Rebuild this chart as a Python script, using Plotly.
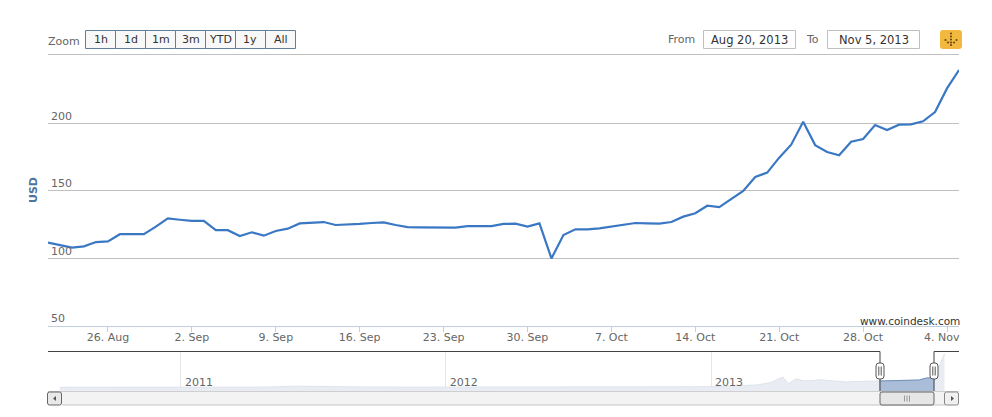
import pandas as pd
import plotly.graph_objects as go

W, H = 992, 417

# ---- data ----
START_DATE = "2013-08-21"
usd_values = [
    111.7, 110, 108, 109, 112.2, 112.7, 118, 118, 118, 123.6, 129.7,
    128.7, 127.8, 127.9, 121, 121, 116.7, 119.4, 116.9, 120.4, 122.1, 126, 126.3, 127, 124.8,
    125, 125.6, 126.3, 126.8, 124.8, 123.3, 123.1, 123.1, 122.6, 122.9, 124, 124, 124, 125.6, 125.8, 123.6,
    126, 100, 117.4, 121.6, 121.6, 122.3, 123.8, 125, 126.3,
    126, 125.8, 127, 131, 133.5, 139.1, 138.1, 143.8, 150, 160.4, 163.6, 174.7, 184.3, 201.3, 184,
    178.9, 176.4, 186.5, 188.5, 198.9, 195.2, 199.1, 199.4, 201.6, 208.5, 226, 239.6,
]
x_tick_dates = ["2013-08-26", "2013-09-02", "2013-09-09", "2013-09-16", "2013-09-23", "2013-09-30",
                "2013-10-07", "2013-10-14", "2013-10-21", "2013-10-28", "2013-11-04"]
x_tick_labels = ["26. Aug", "2. Sep", "9. Sep", "16. Sep", "23. Sep", "30. Sep",
                 "7. Oct", "14. Oct", "21. Oct", "28. Oct", "4. Nov\u00a0\u00a0\u00a0"]
y_tick_values = [50, 100, 150, 200]

nav_dates = ["2010-07-18", "2010-12-01", "2011-03-01", "2011-05-01", "2011-06-08", "2011-07-15", "2011-09-01",
             "2011-11-15", "2012-01-10", "2012-03-01", "2012-06-01", "2012-08-17", "2012-09-15", "2012-11-01",
             "2013-01-01", "2013-02-14", "2013-03-05", "2013-03-24", "2013-04-02", "2013-04-10", "2013-04-18",
             "2013-04-28", "2013-05-08", "2013-05-20", "2013-06-01", "2013-06-17", "2013-07-05", "2013-07-20",
             "2013-08-21", "2013-09-25", "2013-10-15", "2013-10-25", "2013-11-05", "2013-11-08", "2013-11-13",
             "2013-11-19"]
nav_values = [1, 1, 2, 5, 30, 16, 10, 4, 8, 7, 7, 15, 12, 12, 15, 40, 60, 120, 205, 266, 93, 222, 170, 170, 196,
              163, 137, 150, 163, 175, 189, 240, 253, 395, 628, 860]
nav_year_ticks = ["2011-01-01", "2012-01-01", "2013-01-01"]
nav_year_labels = ["2011", "2012", "2013"]
button_labels = ["1h", "1d", "1m", "3m", "YTD", "1y", "All"]
FROM_TEXT, TO_TEXT = "Aug 20, 2013", "Nov 5, 2013"
SEL_START, SEL_END = "2013-08-21", "2013-11-05"
NAV_FLOOR = -103

dates = pd.date_range(START_DATE, periods=len(usd_values), freq="D")

FONT = "DejaVu Sans"


def px(x):
    return x / W


def py(y):
    return 1 - y / H


shapes, annotations = [], []


def rect(x0, y0, x1, y1, fill, line=None, lw=1, layer="above"):
    shapes.append(dict(type="rect", xref="paper", yref="paper", x0=px(x0), x1=px(x1), y0=py(y1), y1=py(y0),
                       fillcolor=fill, line=dict(color=line or "rgba(0,0,0,0)", width=lw if line else 0), layer=layer))


def hline(x0, x1, y, color, lw=1, layer="above"):
    shapes.append(dict(type="line", xref="paper", yref="paper", x0=px(x0), x1=px(x1), y0=py(y), y1=py(y),
                       line=dict(color=color, width=lw), layer=layer))


def vline(x, y0, y1, color, lw=1, layer="above"):
    shapes.append(dict(type="line", xref="paper", yref="paper", x0=px(x), x1=px(x), y0=py(y0), y1=py(y1),
                       line=dict(color=color, width=lw), layer=layer))


def rrect(x0, y0, x1, y1, r, fill, line=None, lw=1):
    # rounded rectangle expressed directly in pixels of the page
    path = (f"M {px(x0 + r)} {py(y0)} L {px(x1 - r)} {py(y0)} Q {px(x1)} {py(y0)} {px(x1)} {py(y0 + r)} "
            f"L {px(x1)} {py(y1 - r)} Q {px(x1)} {py(y1)} {px(x1 - r)} {py(y1)} "
            f"L {px(x0 + r)} {py(y1)} Q {px(x0)} {py(y1)} {px(x0)} {py(y1 - r)} "
            f"L {px(x0)} {py(y0 + r)} Q {px(x0)} {py(y0)} {px(x0 + r)} {py(y0)} Z")
    shapes.append(dict(type="path", xref="paper", yref="paper", path=path, fillcolor=fill,
                       line=dict(color=line or "rgba(0,0,0,0)", width=lw if line else 0), layer="above"))


def dot(x, y, r, color):
    shapes.append(dict(type="circle", xref="paper", yref="paper", x0=px(x - r), x1=px(x + r),
                       y0=py(y + r), y1=py(y - r), fillcolor=color, line=dict(width=0), layer="above"))


def text(x, y, s, color="#666666", size=11, anchor="left", bold=False, angle=0):
    annotations.append(dict(xref="paper", yref="paper", x=px(x), y=py(y), text=f"<b>{s}</b>" if bold else s,
                            showarrow=False, xanchor=anchor, yanchor="middle", textangle=angle,
                            borderpad=0, font=dict(family=FONT, size=size, color=color)))


fig = go.Figure()

# main series
fig.add_trace(go.Scatter(x=dates, y=usd_values, mode="lines", line=dict(color="#3a78c4", width=2.2), hoverinfo="x+y",
                         showlegend=False, xaxis="x", yaxis="y"))

# navigator series
floor_x = [nav_dates[0], nav_dates[-1]]
fig.add_trace(go.Scatter(x=floor_x, y=[NAV_FLOOR, NAV_FLOOR], mode="lines", line=dict(width=0), hoverinfo="skip",
                         showlegend=False, xaxis="x2", yaxis="y2"))
fig.add_trace(go.Scatter(x=nav_dates, y=nav_values, mode="lines", line=dict(color="#dde3ec", width=1),
                         fill="tonexty", fillcolor="#e9edf3", hoverinfo="skip", showlegend=False,
                         xaxis="x2", yaxis="y2"))
sel = [(d, v) for d, v in zip(nav_dates, nav_values) if SEL_START <= d <= SEL_END]
sel_x = [d for d, _ in sel]
sel_y = [v for _, v in sel]
fig.add_trace(go.Scatter(x=[SEL_START, SEL_END], y=[NAV_FLOOR, NAV_FLOOR], mode="lines", line=dict(width=0),
                         hoverinfo="skip", showlegend=False, xaxis="x2", yaxis="y2"))
fig.add_trace(go.Scatter(x=sel_x, y=sel_y, mode="lines", line=dict(color="#6f8fb8", width=1),
                         fill="tonexty", fillcolor="#a9bdd9", hoverinfo="skip", showlegend=False,
                         xaxis="x2", yaxis="y2"))

# top gridline of the plot
hline(48, 959, 54.5, "#c0c0c0", layer="below")

# range buttons
text(47, 41, "Zoom")
bx = 85.5
for lab in button_labels:
    rect(bx, 30.5, bx + 30, 48.5, "#f8f8f8", "#5f7f9c")
    text(bx + 15, 39.5, lab, color="#333333", anchor="center")
    bx += 30

# date inputs
text(667, 40, "From")
rect(703.5, 30.5, 795.5, 48.5, "#ffffff", "#c0c0c0")
text(749.5, 40, FROM_TEXT, color="#333333", anchor="center", size=11.5)
text(805, 40, "To")
rect(827.5, 30.5, 919.5, 48.5, "#ffffff", "#c0c0c0")
text(873.5, 40, TO_TEXT, color="#333333", anchor="center", size=11.5)

# export icon
rrect(940, 30, 962, 49, 3, "#f3b93f")
for ix, iy in [(951, 33.5), (951, 36.5), (951, 39.5), (951, 42.5), (951, 45),
               (945.5, 40), (948, 42.5), (954, 42.5), (956.5, 40)]:
    dot(ix, iy, 1.1, "#6a4c12")

text(33, 190, "USD", color="#4d759e", bold=True, angle=-90, anchor="center")
text(961, 321, "www.coindesk.com", color="#333333", anchor="right", size=10.5)

# navigator outline
hline(48, 880, 351.5, "#444444")
hline(934, 959, 351.5, "#444444")
vline(880, 351.5, 391.5, "#444444")
vline(934, 351.5, 391.5, "#444444")

# scrollbar
rect(62, 391.5, 945, 405, "#f3f3f3")
hline(48, 959, 391.5, "#cfcfcf")
hline(62, 945, 405, "#c4c4c4")
rrect(47.5, 392, 61.5, 405, 2, "#e8e8e8", "#666666")
shapes.append(dict(type="path", xref="paper", yref="paper", layer="above", fillcolor="#555555", line=dict(width=0),
                   path=f"M {px(56)} {py(396)} L {px(53)} {py(398.5)} L {px(56)} {py(401)} Z"))
rrect(944.5, 392, 958.5, 405, 2, "#f0f0f0", "#888888")
shapes.append(dict(type="path", xref="paper", yref="paper", layer="above", fillcolor="#555555", line=dict(width=0),
                   path=f"M {px(951)} {py(396)} L {px(954)} {py(398.5)} L {px(951)} {py(401)} Z"))
rrect(880, 392, 934, 405, 2, "#e6e6e6", "#666666")
for gx in [904.5, 907, 909.5]:
    vline(gx, 395.5, 401.5, "#999999")

# navigator handles
for hx in [880, 934]:
    rrect(hx - 4, 363, hx + 4, 379, 3, "#ffffff", "#555555")
    vline(hx - 1.2, 366.5, 375.5, "#555555")
    vline(hx + 1.2, 366.5, 375.5, "#555555")

fig.update_layout(
    width=W, height=H, autosize=False, margin=dict(l=0, r=0, t=0, b=0, autoexpand=False),
    paper_bgcolor="#ffffff", plot_bgcolor="#ffffff", showlegend=False,
    shapes=shapes, annotations=annotations,
    font=dict(family=FONT, size=11, color="#666666"),
    xaxis=dict(domain=[px(48), px(959)], anchor="y", range=["2013-08-21", "2013-11-05"], type="date",
               tickmode="array", tickvals=x_tick_dates, ticktext=x_tick_labels, showgrid=False,
               ticks="outside", ticklen=5, tickcolor="#c0d0e0", tickwidth=1, ticklabelstandoff=-4,
               showline=True, linecolor="#c0d0e0", linewidth=1, zeroline=False,
               tickfont=dict(family=FONT, size=11, color="#666666")),
    yaxis=dict(domain=[py(326), py(54.5)], anchor="x", range=[50, 251.1], tickmode="array",
               tickvals=y_tick_values, ticktext=[str(v) for v in y_tick_values],
               ticklabelposition="inside top", showgrid=True, gridcolor="#c0c0c0", gridwidth=1,
               zeroline=False, showline=False, ticks="",
               tickfont=dict(family=FONT, size=11, color="#666666")),
    xaxis2=dict(domain=[px(48), px(959)], anchor="y2", range=["2010-07-01 14:00", "2013-12-09"], type="date",
                tickmode="array", tickvals=nav_year_ticks, ticktext=nav_year_labels,
                ticklabelposition="inside right", ticklabelshift=4, ticklabelstandoff=-3,
                showgrid=True, gridcolor="#e6e6e6", gridwidth=1,
                showline=False, zeroline=False, ticks="",
                tickfont=dict(family=FONT, size=11, color="#666666")),
    yaxis2=dict(domain=[py(391.3), py(351.3)], anchor="x2", range=[NAV_FLOOR, 930], visible=False),
)

fig.write_html("out.html", config=dict(displayModeBar=False),
               post_script="document.body.style.margin='0';")
